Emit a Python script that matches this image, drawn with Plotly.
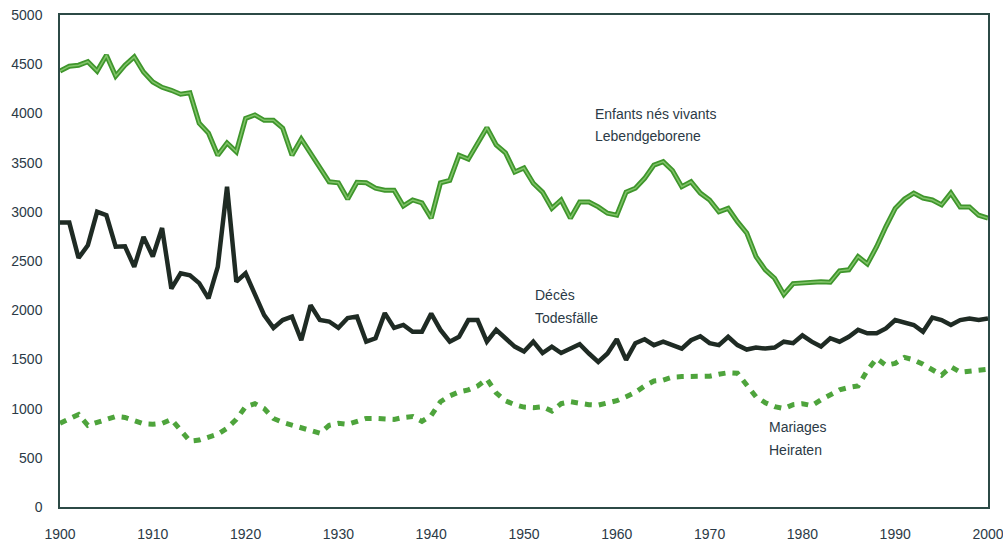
import plotly.graph_objects as go

years = list(range(1900, 2001))

births = [4430, 4480, 4490, 4525, 4430, 4590, 4380, 4490, 4575, 4420,
          4320, 4265, 4235, 4195, 4210, 3900, 3800, 3575, 3700, 3610,
          3950, 3985, 3930, 3930, 3850, 3575, 3740, 3595, 3455, 3305,
          3295, 3130, 3300, 3295, 3240, 3220, 3220, 3060, 3120, 3090,
          2935, 3295, 3320, 3575, 3535, 3700, 3855, 3680, 3600, 3405,
          3445, 3290, 3200, 3035, 3120, 2935, 3100, 3100, 3050, 2985,
          2965, 3200, 3240, 3340, 3475, 3510, 3420, 3255, 3305, 3190,
          3120, 3000, 3035, 2900, 2785, 2545, 2410, 2325, 2160, 2270,
          2280, 2285, 2290, 2285, 2400, 2410, 2545, 2470, 2645, 2850,
          3035, 3130, 3190, 3140, 3120, 3070, 3190, 3050, 3050, 2965,
          2935]

deaths = [2890, 2890, 2530, 2660, 3000, 2965, 2645, 2650, 2440, 2745,
          2545, 2835, 2220, 2375, 2355, 2275, 2120, 2440, 3255, 2290,
          2375, 2155, 1950, 1820, 1900, 1935, 1695, 2050, 1900, 1885,
          1820, 1920, 1935, 1680, 1715, 1970, 1820, 1850, 1780, 1780,
          1965, 1800, 1680, 1730, 1900, 1900, 1680, 1800, 1715, 1630,
          1580, 1680, 1565, 1630, 1565, 1605, 1655, 1560, 1475, 1560,
          1705, 1495, 1665, 1705, 1645, 1680, 1645, 1610, 1695, 1735,
          1665, 1645, 1730, 1645, 1600, 1620, 1610, 1620, 1680, 1665,
          1745, 1680, 1630, 1715, 1680, 1730, 1800, 1765, 1765, 1815,
          1900, 1875, 1850, 1780, 1925, 1900, 1850, 1900, 1915, 1900,
          1915]

marriages = [850, 900, 940, 830, 860, 880, 920, 910, 880, 845,
             840, 850, 890, 780, 670, 680, 710, 740, 800, 890,
             1020, 1050, 1000, 900, 860, 830, 800, 770, 750, 830,
             850, 840, 870, 900, 900, 895, 890, 910, 920, 870,
             930, 1070, 1130, 1170, 1190, 1230, 1300, 1160, 1080, 1040,
             1015, 1010, 1020, 975, 1050, 1070, 1050, 1040, 1035, 1060,
             1080, 1120, 1165, 1230, 1280, 1290, 1320, 1325, 1325, 1325,
             1330, 1350, 1365, 1360, 1240, 1120, 1060, 1020, 1000, 1040,
             1050, 1030, 1090, 1140, 1190, 1215, 1230, 1390, 1510, 1440,
             1460, 1520, 1495, 1450, 1400, 1340, 1425, 1370, 1380, 1390,
             1400]

x_ticks = list(range(1900, 2001, 10))
y_ticks = list(range(0, 5001, 500))

labels = [
    ("Enfants nés vivants", 1957.4, 3995),
    ("Lebendgeborene", 1957.4, 3770),
    ("Décès", 1951.0, 2150),
    ("Todesfälle", 1951.0, 1920),
    ("Mariages", 1976.2, 810),
    ("Heiraten", 1976.2, 580),
]

text_color = "#2b3a46"
axis_color = "#2c4a46"
font_fam = "Liberation Sans, Arial, sans-serif"

fig = go.Figure()

fig.add_trace(go.Scatter(x=years, y=marriages, mode="lines",
                         line=dict(color="#4ea43c", width=5, dash="7px,7px"),
                         showlegend=False, hoverinfo="skip"))
fig.add_trace(go.Scatter(x=years, y=deaths, mode="lines",
                         line=dict(color="#1f2b24", width=4.5),
                         showlegend=False, hoverinfo="skip"))
fig.add_trace(go.Scatter(x=years, y=births, mode="lines",
                         line=dict(color="#3f962c", width=5),
                         showlegend=False, hoverinfo="skip"))
fig.add_trace(go.Scatter(x=years, y=births, mode="lines",
                         line=dict(color="#82c46a", width=1.5),
                         showlegend=False, hoverinfo="skip"))

for txt, xx, yy in labels:
    fig.add_annotation(x=xx, y=yy, text=txt, showarrow=False,
                       xanchor="left", yanchor="middle",
                       font=dict(family=font_fam, size=14, color=text_color))

fig.update_layout(
    width=1010, height=541,
    margin=dict(l=60, r=22, t=15, b=34),
    paper_bgcolor="white", plot_bgcolor="white",
    font=dict(family=font_fam, size=14, color=text_color),
)
fig.update_xaxes(range=[1900, 2000], tickvals=x_ticks, ticks="",
                 showgrid=False, zeroline=False, showline=True,
                 linecolor=axis_color, linewidth=1.5, mirror=True,
                 automargin=False, ticklabelstandoff=13,
                 ticklabeloverflow="allow",
                 tickfont=dict(size=14, color=text_color))
fig.update_yaxes(range=[0, 5000], tickvals=y_ticks, ticks="",
                 showgrid=False, zeroline=False, showline=True,
                 linecolor=axis_color, linewidth=1.5, mirror=True,
                 automargin=False, ticklabelstandoff=13,
                 ticklabeloverflow="allow",
                 tickfont=dict(size=14, color=text_color))

fig.write_html("out.html",
               config={"displayModeBar": False},
               post_script="document.body.style.margin='0';document.body.style.overflow='hidden';")
